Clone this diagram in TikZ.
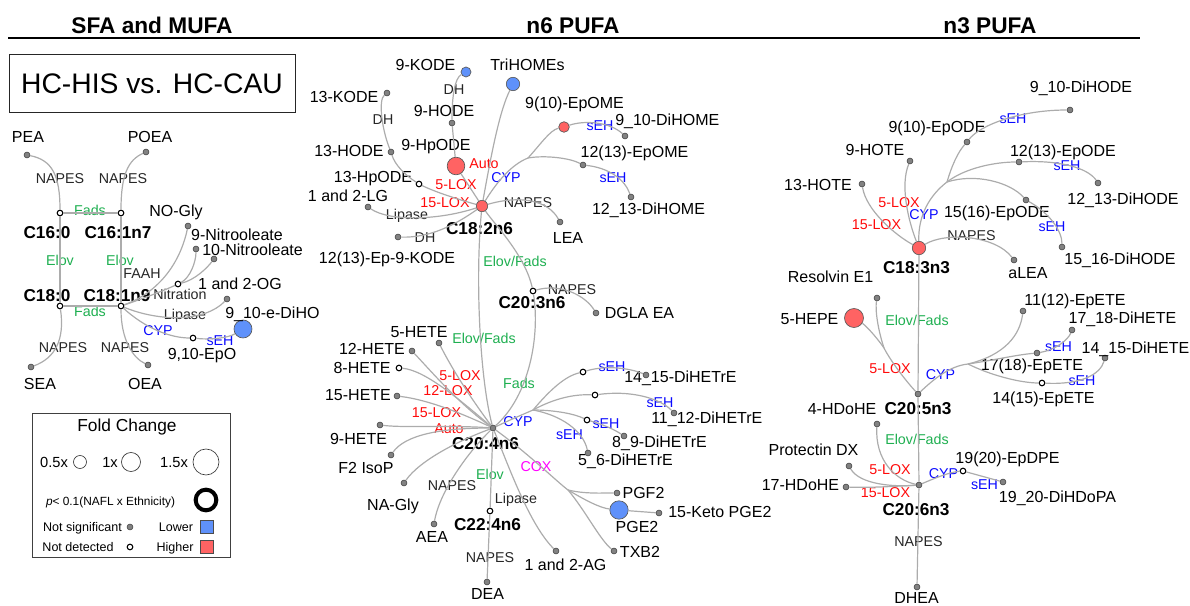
\documentclass[tikz,border=0pt]{standalone}
\usepackage{fontspec}
\setmainfont{Liberation Sans}
\definecolor{cedge}{RGB}{172,172,172}
\definecolor{cgreen}{RGB}{30,175,80}
\definecolor{cred}{RGB}{255,10,10}
\definecolor{cblue}{RGB}{10,10,255}
\definecolor{cmag}{RGB}{255,0,255}
\definecolor{fred}{RGB}{255,99,99}
\definecolor{fblue}{RGB}{95,145,250}
\definecolor{fgrey}{RGB}{130,130,130}
\tikzset{
  lab/.style={font=\fontsize{12}{14}\selectfont, inner sep=0pt, text height=8.6pt, text depth=0pt},
  enz/.style={font=\fontsize{10.7}{12}\selectfont, inner sep=0pt, text height=7.7pt, text depth=0pt, text=black!85},
  gr/.style={enz, text=cgreen},
  rd/.style={enz, text=cred},
  bl/.style={enz, text=cblue},
  mg/.style={enz, text=cmag},
  fa/.style={font=\bfseries\fontsize{12.9}{14}\selectfont, inner sep=0pt, text height=9.2pt, text depth=0pt},
  hdr/.style={font=\bfseries\fontsize{17}{19}\selectfont, inner sep=0pt, text height=12.2pt, text depth=0pt},
  gdot/.style={circle, draw=black!70, fill=fgrey, line width=0.5pt, inner sep=0pt, minimum size=4.4pt},
  odot/.style={circle, draw=black, fill=white, line width=0.8pt, inner sep=0pt, minimum size=4.2pt},
  rc/.style={circle, draw=black!65, fill=fred, line width=0.5pt, inner sep=0pt, minimum size=#1*1.5pt},
  bc/.style={circle, draw=black!65, fill=fblue, line width=0.5pt, inner sep=0pt, minimum size=#1*1.5pt},
  lc/.style={circle, draw=black!80, fill=white, line width=0.5pt, inner sep=0pt, minimum size=#1*1.5pt},
  edge/.style={draw=cedge, line width=0.9pt},
  lgs/.style={font=\fontsize{9.4}{11}\selectfont, inner sep=0pt, text height=6.7pt, text depth=0pt},
}
\begin{document}
\begin{tikzpicture}[x=0.75pt,y=-0.75pt]
\useasboundingbox (0,0) rectangle (1190,606);
% headers
\node[hdr] (h1) at (152,25) {SFA and MUFA};
\node[hdr] (h2) at (573,25) {n6 PUFA};
\node[hdr] (h3) at (990,25) {n3 PUFA};
\draw[line width=1.9pt] (8,38) -- (1140,38);
\node[draw=black!85, line width=0.75pt, minimum width=214.5pt, minimum height=43.5pt, inner sep=0pt] (tbox) at (152,84) {};
\node[font=\fontsize{21.2}{24}\selectfont, inner sep=0pt, text height=15.2pt, text depth=0pt] (ttl) at (152,83) {HC-HIS vs. HC-CAU};

% ---------------- left panel ----------------
\node[gdot] (pea) at (27,155) {};
\node[lab] (peaL) at (28,137) {PEA};
\node[gdot] (poea) at (146,152) {};
\node[lab] (poeaL) at (150,137) {POEA};
\node[enz] (l1) at (60,178) {NAPES};
\node[enz] (l2) at (123,178) {NAPES};
\node[odot] (c160) at (60,213) {};
\node[odot] (c161) at (121,213) {};
\node[gr] (l3) at (90,210) {Fads};
\node[fa] (c160L) at (47,232) {C16:0};
\node[fa] (c161L) at (118,232) {C16:1n7};
\node[gr] (l4) at (60,260) {Elov};
\node[gr] (l5) at (120,260) {Elov};
\node[odot] (c180) at (60,306) {};
\node[odot] (c181) at (121,306) {};
\node[fa] (c180L) at (47,295) {C18:0};
\node[fa] (c181L) at (117,295) {C18:1n9};
\node[gr] (l6) at (90,311) {Fads};
\node[gdot] (sea) at (31,367) {};
\node[lab] (seaL) at (40,384) {SEA};
\node[enz] (l7) at (63,347) {NAPES};
\node[gdot] (oea) at (148,365) {};
\node[lab] (oeaL) at (145,384) {OEA};
\node[enz] (l8) at (125,347) {NAPES};
\node[gdot] (nogly) at (188,226) {};
\node[lab] (noglyL) at (176,211) {NO-Gly};
\node[gdot] (n9) at (196,249) {};
\node[lab] (n9L) at (237,235) {9-Nitrooleate};
\node[gdot] (n10) at (214,259) {};
\node[lab, anchor=west] (n10L) at (202,250) {10-Nitrooleate};
\node[enz] (l9) at (142,273) {FAAH};
\node[odot] (nitr) at (178,284) {};
\node[enz] (l10) at (180,294) {Nitration};
\node[gdot] (og) at (227,299) {};
\node[lab] (ogL) at (240,284) {1 and 2-OG};
\node[enz] (l11) at (185,314) {Lipase};
\node[bc=9] (dihom) at (243,329) {};
\node[lab, anchor=west] (dihomL) at (225,313) {9\_10-e-DiHO};
\node[bl] (l12) at (158,330) {CYP};
\node[odot] (epo) at (193,338) {};
\node[lab] (epoL) at (202,354) {9,10-EpO};
\node[bl] (l13) at (220,340) {sEH};

\draw[edge] (pea) .. controls (52,160) and (60,175) .. (c160);
\draw[edge] (poea) .. controls (128,160) and (121,175) .. (c161);
\draw[edge] (c160) -- (c161);
\draw[edge] (c160) -- (c180);
\draw[edge] (c161) -- (c181);
\draw[edge] (c180) -- (c181);
\draw[edge] (c180) .. controls (65,340) and (55,358) .. (sea);
\draw[edge] (c181) .. controls (121,340) and (133,358) .. (oea);
\draw[edge] (c181) .. controls (165,290) and (182,255) .. (nogly);
\draw[edge] (c181) .. controls (145,298) and (165,290) .. (nitr);
\draw[edge] (nitr) .. controls (190,278) and (196,262) .. (n9);
\draw[edge] (nitr) .. controls (195,280) and (207,268) .. (n10);
\draw[edge] (c181) .. controls (160,322) and (205,322) .. (og);
\draw[edge] (c181) .. controls (145,328) and (170,338) .. (epo);
\draw[edge] (epo) .. controls (210,340) and (228,338) .. (dihom);

% legend
\node[draw=black!75, line width=0.75pt, minimum width=148.5pt, minimum height=108pt, inner sep=0pt] (lgbox) at (131,485) {};
\node[font=\fontsize{13}{15}\selectfont, inner sep=0pt, text height=9.3pt, text depth=0pt] (lgt) at (127,425) {Fold Change};
\node[font=\fontsize{11}{13}\selectfont, inner sep=0pt, text height=7.9pt, text depth=0pt] (lg1) at (54,462) {0.5x};
\node[lc=6.5] (lgc1) at (80,462) {};
\node[font=\fontsize{11}{13}\selectfont, inner sep=0pt, text height=7.9pt, text depth=0pt] (lg2) at (110,462) {1x};
\node[lc=9.5] (lgc2) at (131,462) {};
\node[font=\fontsize{11}{13}\selectfont, inner sep=0pt, text height=7.9pt, text depth=0pt] (lg3) at (174,462) {1.5x};
\node[lc=13] (lgc3) at (206,462) {};
\node[font=\fontsize{8.9}{10}\selectfont, inner sep=0pt, text height=6.4pt, text depth=0pt] (lgp) at (110.5,501) {\textit{p}< 0.1(NAFL x Ethnicity)};
\node[circle, draw=black, line width=3pt, fill=white, inner sep=0pt, minimum size=15.5pt] (lgpc) at (206,500) {};
\node[lgs] (lgns) at (82.5,527) {Not significant};
\node[gdot] (lgnsd) at (130,527) {};
\node[lgs] (lgnd) at (78,547) {Not detected};
\node[odot] (lgndd) at (130,547) {};
\node[lgs] (lglo) at (176,527) {Lower};
\node[draw=black!70, fill=fblue, line width=0.6pt, minimum size=9.75pt, inner sep=0pt] (lglos) at (207,527) {};
\node[lgs] (lghi) at (175,547) {Higher};
\node[draw=black!70, fill=fred, line width=0.6pt, minimum size=9.75pt, inner sep=0pt] (lghis) at (207,547) {};

% ---------------- n6 panel ----------------
\node[bc=5] (kode9) at (466,72) {};
\node[lab] (kode9L) at (425.5,65) {9-KODE};
\node[enz] (m1l) at (454,89) {DH};
\node[bc=6.7] (trihomes) at (513,84) {};
\node[lab] (trihomesL) at (527.5,65) {TriHOMEs};
\node[gdot] (kode13) at (387,93) {};
\node[lab] (kode13L) at (344,97) {13-KODE};
\node[enz] (m2l) at (383,119) {DH};
\node[gdot] (hode9) at (452,123) {};
\node[lab] (hode9L) at (444,111) {9-HODE};
\node[rc=8.8] (hpode9) at (456,166) {};
\node[lab] (hpode9L) at (436,145) {9-HpODE};
\node[rd] (m3l) at (484,163) {Auto};
\node[gdot] (hode13) at (391,152) {};
\node[lab] (hode13L) at (349,151) {13-HODE};
\node[odot] (hpode13) at (419,184) {};
\node[lab] (hpode13L) at (373,177) {13-HpODE};
\node[rd] (m4l) at (456,184) {5-LOX};
\node[bl] (m5l) at (506,177) {CYP};
\node[rd] (m6l) at (445,202) {15-LOX};
\node[gdot] (lg) at (368,207) {};
\node[lab] (lgL) at (348,196) {1 and 2-LG};
\node[enz] (m7l) at (407,214) {Lipase};
\node[rc=5.7] (c182) at (482,206) {};
\node[fa] (c182L) at (479.5,228) {C18:2n6};
\node[enz] (m8l) at (528,202) {NAPES};
\node[gdot] (lea) at (560,222) {};
\node[lab] (leaL) at (568,238) {LEA};
\node[rc=5.3] (epome9) at (564,127) {};
\node[lab] (epome9L) at (574.5,103) {9(10)-EpOME};
\node[bl] (m9l) at (600,125) {sEH};
\node[gdot] (dihome9) at (625,136) {};
\node[lab, anchor=west] (dihome9L) at (615,120) {9\_10-DiHOME};
\node[gdot] (epome12) at (583,165) {};
\node[lab] (epome12L) at (634.5,152) {12(13)-EpOME};
\node[bl] (m10l) at (613,177) {sEH};
\node[gdot] (dihome12) at (631,197) {};
\node[lab] (dihome12L) at (648.5,209) {12\_13-DiHOME};
\coordinate (cypb) at (528,158);
\node[gdot] (epk) at (398,237) {};
\node[enz] (m11l) at (425,237) {DH};
\node[lab] (epkL) at (387,258) {12(13)-Ep-9-KODE};
\node[gr] (m12l) at (515,261) {Elov/Fads};
\node[odot] (c203) at (533,291) {};
\node[fa] (c203L) at (532,302) {C20:3n6};
\node[enz] (m13l) at (572,289) {NAPES};
\node[gdot] (dglaea) at (596,313) {};
\node[lab] (dglaeaL) at (639.5,313) {DGLA EA};
\node[gr] (m14l) at (484,338) {Elov/Fads};
\node[gr] (m15l) at (519,383) {Fads};
\node[gdot] (hete5) at (439,343) {};
\node[lab] (hete5L) at (419,332) {5-HETE};
\node[gdot] (hete12) at (412,351) {};
\node[lab] (hete12L) at (372,349) {12-HETE};
\node[odot] (hete8) at (399,368) {};
\node[lab] (hete8L) at (362,368) {8-HETE};
\node[gdot] (hete15) at (397,396) {};
\node[lab] (hete15L) at (358,395) {15-HETE};
\node[rd] (m16l) at (460,375) {5-LOX};
\node[rd] (m17l) at (448,390) {12-LOX};
\node[rd] (m18l) at (436.5,412) {15-LOX};
\node[rd] (m19l) at (449,428) {Auto};
\node[gdot] (hete9) at (380,425) {};
\node[lab] (hete9L) at (358.5,439) {9-HETE};
\node[gdot] (f2) at (391,455) {};
\node[lab] (f2L) at (366,468) {F2 IsoP};
\node[gdot] (nagly) at (404,483) {};
\node[lab] (naglyL) at (393,505) {NA-Gly};
\node[enz] (m20l) at (452,485) {NAPES};
\node[gdot] (aea) at (434,524) {};
\node[lab] (aeaL) at (432,537) {AEA};
\node[gdot] (c204) at (493,428) {};
\node[fa] (c204L) at (485.5,443) {C20:4n6};
\node[gr] (m21l) at (490,474) {Elov};
\node[enz] (m22l) at (516,498) {Lipase};
\node[odot] (c224) at (490,511) {};
\node[fa] (c224L) at (487.5,524) {C22:4n6};
\node[enz] (m23l) at (490,557) {NAPES};
\node[gdot] (dea) at (487,582) {};
\node[lab] (deaL) at (487.5,594) {DEA};
\node[gdot] (ag) at (556,551) {};
\node[lab] (agL) at (565.5,565) {1 and 2-AG};
\node[mg] (m24l) at (536,466) {COX};
\coordinate (coxb) at (568,490);
\node[gdot] (pgf2) at (617,493) {};
\node[lab] (pgf2L) at (643.5,493) {PGF2};
\node[bc=9.2] (pge2) at (619,510) {};
\node[lab] (pge2L) at (637,527) {PGE2};
\node[gdot] (keto) at (659,513) {};
\node[lab, anchor=west] (ketoL) at (668,512) {15-Keto PGE2};
\node[gdot] (txb2) at (614,551) {};
\node[lab] (txb2L) at (640,552) {TXB2};
\node[bl] (m25l) at (518,421) {CYP};
\coordinate (cypb2) at (533,410);
\node[odot] (ep1415) at (583,372) {};
\node[bl] (m26l) at (612,366) {sEH};
\node[lab, anchor=west] (dh1415L) at (624,377) {14\_15-DiHETrE};
\node[gdot] (dh1415) at (646,375) {};
\node[odot] (ep1112) at (595,395) {};
\node[bl] (m27l) at (660,402) {sEH};
\node[lab, anchor=west] (dh1112L) at (651,418) {11\_12-DiHETrE};
\node[gdot] (dh1112) at (674,413) {};
\node[odot] (ep89) at (587,420) {};
\node[bl] (m28l) at (606,423) {sEH};
\node[lab] (dh89L) at (659.5,442) {8\_9-DiHETrE};
\node[gdot] (dh89) at (624,436) {};
\node[bl] (m29l) at (569.5,434) {sEH};
\node[lab] (dh56L) at (625.5,460) {5\_6-DiHETrE};
\node[gdot] (dh56) at (588,453) {};

\draw[edge] (c182) .. controls (492,150) and (500,110) .. (trihomes);
\draw[edge] (c182) -- (hpode9);
\draw[edge] (hpode9) -- (hode9);
\draw[edge] (hode9) .. controls (452,95) and (455,78) .. (kode9);
\draw[edge] (c182) .. controls (460,200) and (435,192) .. (hpode13);
\draw[edge] (hpode13) .. controls (405,175) and (395,165) .. (hode13);
\draw[edge] (hode13) .. controls (382,130) and (378,100) .. (kode13);
\draw[edge] (c182) .. controls (440,220) and (390,222) .. (lg);
\draw[edge] (c182) .. controls (455,225) and (430,238) .. (epk);
\draw[edge] (c182) .. controls (520,195) and (548,200) .. (lea);
\draw[edge] (c182) .. controls (495,185) and (510,165) .. (cypb);
\draw[edge] (cypb) .. controls (540,145) and (550,130) .. (epome9);
\draw[edge] (cypb) .. controls (545,155) and (570,158) .. (epome12);
\draw[edge] (epome9) .. controls (585,120) and (610,122) .. (dihome9);
\draw[edge] (epome12) .. controls (610,168) and (625,180) .. (dihome12);
\draw[edge] (c182) .. controls (495,225) and (525,255) .. (c203);
\draw[edge] (c203) .. controls (560,283) and (585,295) .. (dglaea);
\draw[edge] (c203) .. controls (540,335) and (530,395) .. (c204);
\draw[edge] (c182) .. controls (475,280) and (480,380) .. (c204);
\draw[edge] (hete5) .. controls (455,375) and (478,408) .. (c204);
\draw[edge] (hete12) .. controls (430,370) and (460,405) .. (c204);
\draw[edge] (hete8) .. controls (425,370) and (460,400) .. (c204);
\draw[edge] (hete15) .. controls (430,400) and (465,415) .. (c204);
\draw[edge] (hete9) .. controls (405,428) and (450,425) .. (c204);
\draw[edge] (f2) .. controls (405,435) and (440,428) .. (c204);
\draw[edge] (nagly) .. controls (420,460) and (460,440) .. (c204);
\draw[edge] (aea) .. controls (440,490) and (470,450) .. (c204);
\draw[edge] (c204) -- (c224);
\draw[edge] (c224) -- (dea);
\draw[edge] (c204) .. controls (510,470) and (530,525) .. (ag);
\draw[edge] (c204) .. controls (530,455) and (555,480) .. (coxb);
\draw[edge] (coxb) .. controls (585,494) and (600,493) .. (pgf2);
\draw[edge] (coxb) .. controls (585,500) and (600,508) .. (pge2);
\draw[edge] (coxb) .. controls (585,510) and (600,540) .. (txb2);
\draw[edge] (pge2) -- (keto);
\draw[edge] (c204) .. controls (510,420) .. (cypb2);
\draw[edge] (cypb2) .. controls (550,390) and (565,376) .. (ep1415);
\draw[edge] (ep1415) .. controls (605,365) and (630,368) .. (dh1415);
\draw[edge] (cypb2) .. controls (555,398) and (575,394) .. (ep1112);
\draw[edge] (ep1112) .. controls (630,390) and (660,398) .. (dh1112);
\draw[edge] (cypb2) .. controls (555,410) and (575,414) .. (ep89);
\draw[edge] (ep89) .. controls (605,425) and (615,430) .. (dh89);
\draw[edge] (cypb2) .. controls (560,415) and (583,430) .. (dh56);

% ---------------- n3 panel ----------------
\node[gdot] (dihode9) at (1070,110) {};
\node[lab] (dihode9L) at (1081,87) {9\_10-DiHODE};
\node[bl] (r1l) at (1013,118) {sEH};
\node[gdot] (epode9) at (967,142) {};
\node[lab] (epode9L) at (937,127) {9(10)-EpODE};
\node[gdot] (hote9) at (910,161) {};
\node[lab] (hote9L) at (875,150) {9-HOTE};
\node[gdot] (epode12) at (1019,162) {};
\node[lab] (epode12L) at (1063,151) {12(13)-EpODE};
\node[bl] (r2l) at (1067,165) {sEH};
\node[gdot] (dihode12) at (1098,183) {};
\node[lab] (dihode12L) at (1123,199) {12\_13-DiHODE};
\node[gdot] (hote13) at (862,184) {};
\node[lab] (hote13L) at (818,185) {13-HOTE};
\node[rd] (r3l) at (899,202) {5-LOX};
\node[rd] (r4l) at (876.5,224) {15-LOX};
\node[bl] (r5l) at (924,214) {CYP};
\node[gdot] (epode15) at (1026,200) {};
\node[lab] (epode15L) at (997,212) {15(16)-EpODE};
\node[bl] (r6l) at (1052,226) {sEH};
\node[gdot] (dihode15) at (1062,247) {};
\node[lab] (dihode15L) at (1120,259) {15\_16-DiHODE};
\node[enz] (r7l) at (971.5,235) {NAPES};
\node[gdot] (alea) at (1014,260) {};
\node[lab] (aleaL) at (1028,273) {aLEA};
\node[rc=6.7] (c183) at (919,248) {};
\node[fa] (c183L) at (916.5,267) {C18:3n3};
\coordinate (cypb3) at (947,182);
\node[gdot] (rve1) at (877,298) {};
\node[lab] (rve1L) at (830.5,277) {Resolvin E1};
\node[rc=9.5] (hepe5) at (854,318) {};
\node[lab] (hepe5L) at (809.5,319) {5-HEPE};
\node[gr] (r8l) at (917,320) {Elov/Fads};
\node[rd] (r9l) at (890,368) {5-LOX};
\coordinate (mg1) at (884,348);
\node[gdot] (c205) at (918,394) {};
\node[fa] (c205L) at (918,408) {C20:5n3};
\node[bl] (r10l) at (940.5,374) {CYP};
\coordinate (cypb5) at (968,364);
\node[gdot] (ep1112e) at (1023,311) {};
\node[lab] (ep1112eL) at (1075,300) {11(12)-EpETE};
\node[gdot] (dh1718) at (1072,330) {};
\node[lab] (dh1718L) at (1122.5,318) {17\_18-DiHETE};
\node[bl] (r11l) at (1058.5,346) {sEH};
\node[gdot] (ep1718) at (1037,353) {};
\node[lab] (ep1718L) at (1032,365) {17(18)-EpETE};
\node[gdot] (dh1415e) at (1105,358) {};
\node[lab] (dh1415eL) at (1135.5,348) {14\_15-DiHETE};
\node[bl] (r12l) at (1082,380) {sEH};
\node[odot] (ep1415e) at (1042,383) {};
\node[lab] (ep1415eL) at (1043.5,398) {14(15)-EpETE};
\node[gdot] (hdohe4) at (877,424) {};
\node[lab] (hdohe4L) at (842,409) {4-HDoHE};
\node[gr] (r13l) at (917,439) {Elov/Fads};
\node[gdot] (pdx) at (849,466) {};
\node[lab] (pdxL) at (813.5,450) {Protectin DX};
\node[gdot] (hdohe17) at (846,487) {};
\node[lab] (hdohe17L) at (800.5,485) {17-HDoHE};
\node[rd] (r14l) at (890,469) {5-LOX};
\node[rd] (r15l) at (885.5,492) {15-LOX};
\node[gdot] (c206) at (919,485) {};
\node[fa] (c206L) at (916,509) {C20:6n3};
\node[bl] (r16l) at (943.5,473) {CYP};
\node[odot] (epdpe) at (963,471) {};
\node[lab] (epdpeL) at (1007.5,458) {19(20)-EpDPE};
\node[bl] (r17l) at (984.5,484) {sEH};
\node[gdot] (dihdopa) at (1003,482) {};
\node[lab] (dihdopaL) at (1057.5,497) {19\_20-DiHDoPA};
\node[enz] (r18l) at (918.5,541) {NAPES};
\node[gdot] (dhea) at (917,587) {};
\node[lab] (dheaL) at (916.5,598) {DHEA};

\draw[edge] (c183) .. controls (895,235) and (866,210) .. (hote13);
\draw[edge] (c183) .. controls (908,220) and (900,185) .. (hote9);
\draw[edge] (c183) .. controls (918,215) and (930,195) .. (cypb3);
\draw[edge] (cypb3) .. controls (952,165) and (958,152) .. (epode9);
\draw[edge] (epode9) .. controls (980,125) and (1020,110) .. (dihode9);
\draw[edge] (cypb3) .. controls (965,168) and (995,162) .. (epode12);
\draw[edge] (epode12) .. controls (1060,160) and (1088,168) .. (dihode12);
\draw[edge] (cypb3) .. controls (975,173) and (1010,182) .. (epode15);
\draw[edge] (epode15) .. controls (1048,212) and (1062,230) .. (dihode15);
\draw[edge] (c183) .. controls (945,232) and (995,235) .. (alea);
\draw[edge] (c183) -- (c205);
\draw[edge] (c205) .. controls (905,380) and (890,360) .. (mg1);
\draw[edge] (mg1) .. controls (875,335) and (865,325) .. (hepe5);
\draw[edge] (mg1) .. controls (878,330) and (875,310) .. (rve1);
\draw[edge] (c205) .. controls (935,378) and (950,366) .. (cypb5);
\draw[edge] (cypb5) .. controls (1005,355) and (1020,335) .. (ep1112e);
\draw[edge] (cypb5) .. controls (995,360) and (1015,355) .. (ep1718);
\draw[edge] (ep1718) .. controls (1055,350) and (1068,340) .. (dh1718);
\draw[edge] (cypb5) .. controls (990,375) and (1020,383) .. (ep1415e);
\draw[edge] (ep1415e) .. controls (1080,385) and (1100,375) .. (dh1415e);
\draw[edge] (c205) -- (c206);
\draw[edge] (hdohe4) .. controls (875,460) and (895,480) .. (c206);
\draw[edge] (pdx) .. controls (860,485) and (895,487) .. (c206);
\draw[edge] (hdohe17) .. controls (870,488) and (900,486) .. (c206);
\draw[edge] (c206) .. controls (935,478) and (950,472) .. (epdpe);
\draw[edge] (epdpe) -- (dihdopa);
\draw[edge] (c206) -- (dhea);
\end{tikzpicture}
\end{document}
